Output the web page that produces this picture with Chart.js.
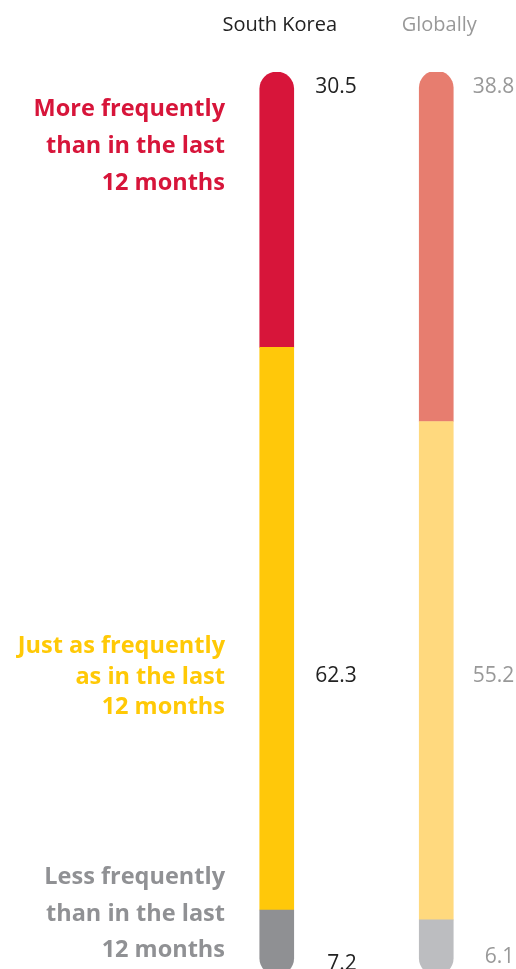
<!DOCTYPE html>
<html>
<head>
<meta charset="utf-8">
<script src="https://cdn.jsdelivr.net/npm/chart.js@4/dist/chart.umd.min.js"></script>
<style>
  html, body { margin: 0; padding: 0; background: #fff; overflow: hidden; width: 516px; height: 969px; }
  canvas { display: block; }
</style>
</head>
<body>
<canvas id="c" width="516" height="975"></canvas>
<script>
const categories = ['South Korea', 'Globally'];
const moreFrequently = [30.5, 38.8];
const justAsFrequently = [62.3, 55.2];
const lessFrequently = [7.2, 6.1];
const seriesNames = [
  ['More frequently', 'than in the last', '12 months'],
  ['Just as frequently', 'as in the last', '12 months'],
  ['Less frequently', 'than in the last', '12 months']
];

const R = 17;
const labelFont = '"Open Sans", sans-serif';

const overlay = {
  id: 'overlay',
  afterDatasetsDraw(chart) {
    const ctx = chart.ctx;
    const xs = chart.scales.x;
    const titleColors = ['#222222', '#999999'];
    ctx.save();
    // category titles
    ctx.font = '400 20px ' + labelFont;
    ctx.textAlign = 'center';
    ctx.textBaseline = 'alphabetic';
    categories.forEach((c, i) => {
      ctx.fillStyle = titleColors[i];
      ctx.fillText(c, xs.getPixelForValue(i) + 3, 31);
    });
    // value labels: rows for more / just / less
    const rows = [
      { data: moreFrequently, base: [93, 93] },
      { data: justAsFrequently, base: [682, 682] },
      { data: lessFrequently, base: [970, 963] }
    ];
    ctx.font = '400 21px ' + labelFont;
    ctx.textAlign = 'right';
    rows.forEach(r => {
      r.data.forEach((v, i) => {
        ctx.fillStyle = titleColors[i];
        ctx.fillText(v.toFixed(1), xs.getPixelForValue(i) + (i === 0 ? 80 : 78), r.base[i]);
      });
    });
    // series names on the left
    const nameColors = ['#D7153A', '#FFC906', '#909194'];
    const nameBase = [[116, 153, 190], [653, 684, 714], [884, 921, 957]];
    ctx.font = '700 23.5px ' + labelFont;
    ctx.textAlign = 'right';
    seriesNames.forEach((lines, k) => {
      ctx.fillStyle = nameColors[k];
      lines.forEach((t, j) => ctx.fillText(t, 225, nameBase[k][j]));
    });
    ctx.restore();
  }
};

new Chart(document.getElementById('c'), {
  type: 'bar',
  data: {
    labels: categories,
    datasets: [
      {
        label: 'Less frequently than in the last 12 months',
        data: lessFrequently,
        backgroundColor: ['#8F9093', '#BCBDC0'],
        borderWidth: 0,
        borderSkipped: false,
        borderRadius: { topLeft: 0, topRight: 0, bottomLeft: R, bottomRight: R }
      },
      {
        label: 'Just as frequently as in the last 12 months',
        data: justAsFrequently,
        backgroundColor: ['#FFC80A', '#FFD97E'],
        borderWidth: 0,
        borderRadius: 0
      },
      {
        label: 'More frequently than in the last 12 months',
        data: moreFrequently,
        backgroundColor: ['#D7153A', '#E77D6F'],
        borderWidth: 0,
        borderSkipped: false,
        borderRadius: { topLeft: R, topRight: R, bottomLeft: 0, bottomRight: 0 }
      }
    ]
  },
  options: {
    responsive: false,
    animation: false,
    layout: { padding: { top: 72, bottom: 0, left: 197, right: 0 } },
    datasets: { bar: { barThickness: 34 } },
    plugins: { legend: { display: false }, tooltip: { enabled: false } },
    scales: {
      x: { stacked: true, display: false },
      y: { stacked: true, display: false, min: 0, max: 100 }
    }
  },
  plugins: [overlay]
});
</script>
</body>
</html>
